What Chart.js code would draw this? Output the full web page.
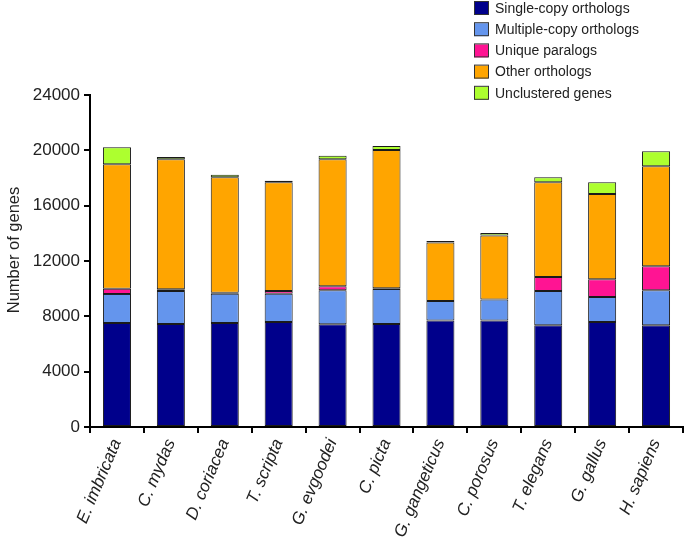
<!DOCTYPE html>
<html><head><meta charset="utf-8">
<script src="https://cdn.jsdelivr.net/npm/chart.js@4"></script>
<style>html,body{margin:0;padding:0;background:#fff}#wrap{width:685px;height:546px}</style>
</head><body><div id="wrap"><canvas id="c" width="685" height="546"></canvas></div>
<script>
const categories = ["E. imbricata","C. mydas","D. coriacea","T. scripta","G. evgoodei","C. picta","G. gangeticus","C. porosus","T. elegans","G. gallus","H. sapiens"];
const singleCopy   = [7520,7450,7520,7590,7425,7450,7690,7690,7350,7590,7350];
const multipleCopy = [2100,2380,2120,2050,2460,2530,1420,1520,2480,1810,2530];
const uniqueParalogs = [380,120,60,190,290,50,0,0,1020,1280,1740];
const otherOrthologs = [9000,9400,8350,7860,9180,9990,4220,4630,6850,6170,7230];
const unclustered  = [1220,170,190,120,260,290,120,190,360,850,1090];
const seriesNames = ["Single-copy orthologs","Multiple-copy orthologs","Unique paralogs","Other orthologs","Unclustered genes"];
const seriesColors = ["#00008B","#6495ED","#FF1493","#FFA500","#ADFF2F"];
const yTicks = [0,4000,8000,12000,16000,20000,24000];
const yTitle = "Number of genes";

const FONT = "'Liberation Sans', Arial, sans-serif";
const allData = [singleCopy, multipleCopy, uniqueParalogs, otherOrthologs, unclustered];

const legendPlugin = {
  id: 'customLegend',
  afterDraw(chart) {
    const ctx = chart.ctx;
    ctx.save();
    ctx.font = "14px " + FONT;
    ctx.textBaseline = 'middle';
    ctx.textAlign = 'left';
    seriesNames.forEach((n, i) => {
      const y = 8 + i * 21.2;
      ctx.fillStyle = seriesColors[i];
      ctx.fillRect(474, y - 6, 14, 13);
      ctx.strokeStyle = '#333';
      ctx.lineWidth = 1;
      ctx.strokeRect(474.5, y - 6.5, 14, 13);
      ctx.fillStyle = '#222';
      ctx.fillText(n, 495, y + 1);
    });
    // y-axis title
    ctx.translate(14, 250);
    ctx.rotate(-Math.PI / 2);
    ctx.textAlign = 'center';
    ctx.font = "16.5px " + FONT;
    ctx.fillStyle = '#222';
    ctx.fillText(yTitle, 0, 0);
    ctx.restore();
  }
};

new Chart(document.getElementById('c'), {
  type: 'bar',
  data: {
    labels: categories,
    datasets: allData.map((d, i) => ({
      label: seriesNames[i],
      data: d,
      backgroundColor: seriesColors[i],
      borderColor: '#1a1a1a',
      borderWidth: 1,
      borderSkipped: false,
      barPercentage: 0.52,
      categoryPercentage: 1.0
    }))
  },
  options: {
    responsive: false,
    animation: false,
    events: [],
    layout: { padding: { top: 95, right: 2, left: 0, bottom: 0 } },
    plugins: { legend: { display: false }, tooltip: { enabled: false } },
    scales: {
      x: {
        stacked: true,
        grid: { display: true, drawOnChartArea: false, drawTicks: true, tickLength: 6, color: '#000', lineWidth: 2, offset: true },
        border: { display: true, color: '#000', width: 2 },
        ticks: { color: '#222', font: { family: FONT, size: 17, style: 'italic' }, maxRotation: 67, minRotation: 67, padding: 3, autoSkip: false },
        afterFit(s) { s.height = 119; }
      },
      y: {
        stacked: true,
        min: 0, max: 24000,
        afterBuildTicks(s) { s.ticks = yTicks.map(v => ({ value: v })); },
        grid: { display: true, drawOnChartArea: false, drawTicks: true, tickLength: 6, color: '#000', lineWidth: 2 },
        border: { display: true, color: '#000', width: 2 },
        ticks: { color: '#222', font: { family: FONT, size: 17 }, padding: 4, callback: v => String(v) },
        afterFit(s) { s.width = 90; }
      }
    }
  },
  plugins: [legendPlugin]
});
</script>
</body></html>
